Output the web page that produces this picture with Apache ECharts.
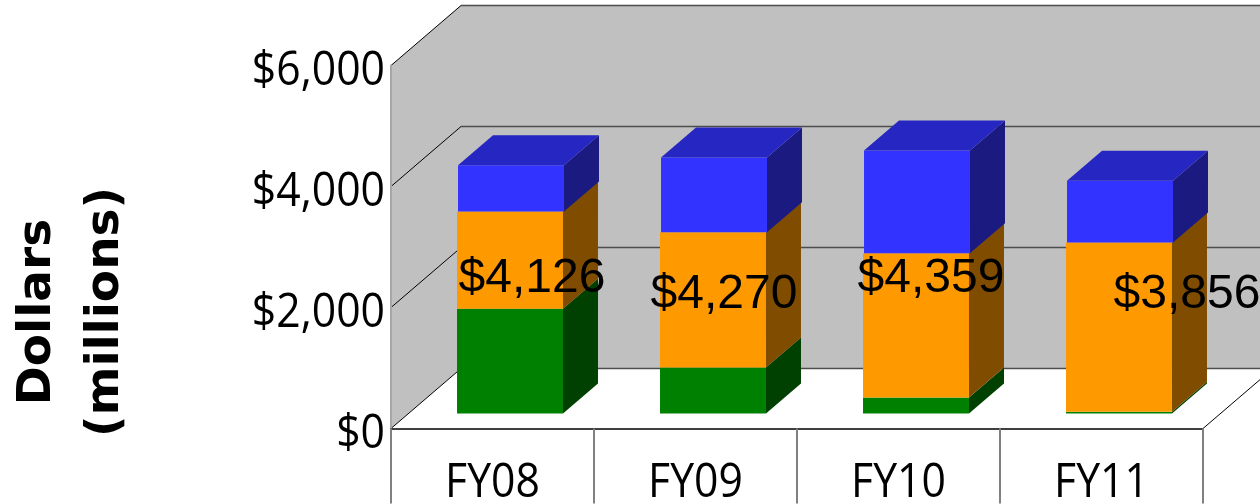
<!DOCTYPE html>
<html>
<head>
<meta charset="utf-8">
<title>Dollars (millions) by fiscal year</title>
<script src="https://cdn.jsdelivr.net/npm/echarts@6/dist/echarts.min.js"></script>
<style>
  html, body { margin: 0; padding: 0; background: #fff; }
  #chart { width: 1260px; height: 504px; }
</style>
</head>
<body>
<div id="chart"></div>
<script>
const categories = ["FY08", "FY09", "FY10", "FY11"];
const greenValues = [1730, 760, 264, 28];
const orangeValues = [1608, 2236, 2385, 2798];
const blueValues = [767, 1235, 1697, 1020];
const totals = [4126, 4270, 4359, 3856];
const yTicks = [0, 2000, 4000, 6000];

// oblique projection of the old 3D chart, in px
const DEPTH_X = 70;
const DEPTH_Y = -60;
const BAR_FRONT = 0.25; // share of the depth where the front face sits
const BAR_BACK = 0.75;
const BAR_WIDTH = 0.522;

// the labels were placed by hand in the original: nudge from bar centre
const labelNudge = [[22, -10], [11, 10], [15, -3], [68, -2]];

// the original axis font is narrow, no narrow face is installed
const AXIS_FONT = '48px "Open Sans", sans-serif';
const AXIS_SQUEEZE = 0.89;

const money = (v) => "$" + v.toLocaleString("en-US");

const stack = (rows) => {
    const bases = categories.map(() => 0);
    return rows.map((row) =>
        row.map((v, i) => {
            const item = [i, bases[i], bases[i] + v];
            bases[i] += v;
            return item;
        })
    );
};
const [greenData, orangeData, blueData] = stack([greenValues, orangeValues, blueValues]);

const poly = (points, fill) => ({
    type: "polygon",
    shape: { points },
    style: { fill },
});
const line = (x1, y1, x2, y2, stroke, lineWidth) => ({
    type: "line",
    shape: { x1, y1, x2, y2 },
    style: { stroke, lineWidth },
});

const renderWalls = (params, api) => {
    const box = params.coordSys;
    const left = box.x;
    const right = box.x + box.width;
    const backLeft = left + DEPTH_X;
    const backRight = right + DEPTH_X;
    const top = api.coord([0, yTicks[yTicks.length - 1]])[1];
    const floor = api.coord([0, 0])[1];
    const children = [
        poly([[left, top], [backLeft, top + DEPTH_Y], [backRight, top + DEPTH_Y], [backRight, floor + DEPTH_Y], [backLeft, floor + DEPTH_Y], [left, floor]], "#c0c0c0"),
        poly([[left, floor], [backLeft, floor + DEPTH_Y], [backRight, floor + DEPTH_Y], [right, floor]], "#ffffff"),
        line(right, floor, backRight, floor + DEPTH_Y, "#000", 1),
    ];
    yTicks.forEach((t) => {
        const y = api.coord([0, t])[1];
        children.push(line(left, y, backLeft, y + DEPTH_Y, "#000", 1));
        children.push(line(backLeft, y + DEPTH_Y, backRight, y + DEPTH_Y, "#4d4d4d", 1.5));
    });
    return { type: "group", children };
};

const renderBar = (front, side, topFill, shift) => (params, api) => {
    const i = api.value(0);
    const bottom = api.coord([i, api.value(1)]);
    const upper = api.coord([i, api.value(2)]);
    const w = api.size([1, 0])[0] * BAR_WIDTH;
    const fx = DEPTH_X * BAR_FRONT + shift;
    const fy = DEPTH_Y * BAR_FRONT;
    const d = DEPTH_X * (BAR_BACK - BAR_FRONT);
    const h = DEPTH_Y * (BAR_BACK - BAR_FRONT);
    const x0 = bottom[0] - w / 2 + fx;
    const x1 = x0 + w;
    const y0 = bottom[1] + fy;
    const y1 = upper[1] + fy;
    const children = [
        poly([[x0, y0], [x1, y0], [x1, y1], [x0, y1]], front),
        poly([[x1, y0], [x1 + d, y0 + h], [x1 + d, y1 + h], [x1, y1]], side),
    ];
    if (topFill) {
        children.push(poly([[x0, y1], [x1, y1], [x1 + d, y1 + h], [x0 + d, y1 + h]], topFill));
    }
    return { type: "group", children };
};

const renderTotal = (params, api) => {
    const i = api.value(0);
    const p = api.coord([i, api.value(1) / 2]);
    return {
        type: "text",
        x: p[0] + DEPTH_X * BAR_FRONT + labelNudge[i][0],
        y: p[1] + DEPTH_Y * BAR_FRONT + labelNudge[i][1],
        style: {
            text: money(api.value(1)),
            fill: "#000",
            font: '48px "Liberation Sans", Arial, sans-serif',
            textAlign: "center",
            textVerticalAlign: "middle",
        },
    };
};

// tick labels go through custom text since axisLabel cannot be squeezed
const renderYTick = (params, api) => {
    const p = api.coord([0, api.value(0)]);
    return {
        type: "text",
        x: params.coordSys.x - 6,
        y: p[1] + 6,
        scaleX: AXIS_SQUEEZE,
        style: {
            text: money(api.value(0)),
            fill: "#000",
            font: AXIS_FONT,
            textAlign: "right",
            textVerticalAlign: "middle",
        },
    };
};

const renderXTick = (params, api) => {
    const p = api.coord([api.value(0), 0]);
    return {
        type: "text",
        x: p[0],
        y: p[1] + 55,
        scaleX: AXIS_SQUEEZE,
        style: {
            text: categories[api.value(0)],
            fill: "#000",
            font: AXIS_FONT,
            textAlign: "center",
            textVerticalAlign: "middle",
        },
    };
};

const option = {
    animation: false,
    backgroundColor: "#fff",
    grid: { left: 391, right: 57, top: 65.5, bottom: 75.5, outerBoundsMode: "none" },
    xAxis: {
        type: "category",
        data: categories,
        z: 3,
        axisLine: { show: true, lineStyle: { color: "#404040", width: 2 } },
        axisTick: { show: true, length: 75, lineStyle: { color: "#808080", width: 2 } },
        axisLabel: { show: false },
    },
    yAxis: {
        type: "value",
        min: 0,
        max: 6000,
        interval: 2000,
        z: 3,
        axisLine: { show: true, lineStyle: { color: "#a6a6a6", width: 2 } },
        axisTick: { show: false },
        splitLine: { show: false },
        axisLabel: { show: false },
    },
    graphic: [
        {
            type: "text",
            x: 72,
            y: 312,
            rotation: Math.PI / 2,
            style: {
                text: "Dollars\n(millions)",
                fill: "#000",
                font: 'bold 47px "DejaVu Sans", sans-serif',
                lineHeight: 68,
                textAlign: "center",
                textVerticalAlign: "middle",
            },
        },
    ],
    series: [
        { type: "custom", silent: true, z: 1, data: [[0]], renderItem: renderWalls },
        { name: "Green", type: "custom", silent: true, z: 4, data: greenData, renderItem: renderBar("#008000", "#004000", null, 0) },
        { name: "Orange", type: "custom", silent: true, z: 4, data: orangeData, renderItem: renderBar("#ff9900", "#804d00", null, 0) },
        { name: "Blue", type: "custom", silent: true, z: 4, data: blueData, renderItem: renderBar("#3333ff", "#1a1a80", "#2626c2", 1) },
        { type: "custom", silent: true, z: 5, data: totals.map((t, i) => [i, t]), renderItem: renderTotal },
        { type: "custom", silent: true, z: 5, data: yTicks.map((t) => [t]), encode: { y: 0 }, renderItem: renderYTick },
        { type: "custom", silent: true, z: 5, data: categories.map((c, i) => [i]), encode: { x: 0 }, renderItem: renderXTick },
    ],
};

const chart = echarts.init(document.getElementById("chart"));
chart.setOption(option);
</script>
</body>
</html>
